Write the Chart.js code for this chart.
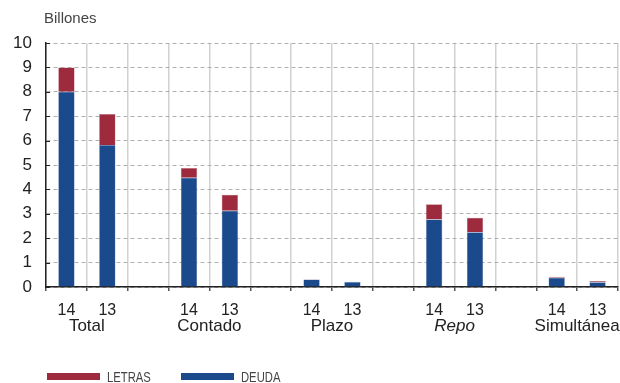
<!DOCTYPE html>
<html>
<head>
<meta charset="utf-8">
<script src="https://cdn.jsdelivr.net/npm/chart.js@4"></script>
<style>
  body { margin: 0; background: #fff; }
  #wrap { position: relative; width: 620px; height: 383px; }
  .leg { position: absolute; top: 368px; height: 16px; font-family: "Liberation Sans", sans-serif; font-size: 15px; color: #444; white-space: nowrap; }
  .leg span { position: absolute; left: 0; top: 5px; width: 53px; height: 7px; }
  .leg b { position: absolute; left: 60px; top: 0; font-weight: normal; transform: scaleX(0.75); transform-origin: left center; }
</style>
</head>
<body>
<div id="wrap">
  <canvas id="chart" width="620" height="383"></canvas>
  <div class="leg" style="left:47px"><span style="background:#9e2a3e"></span><b>LETRAS</b></div>
  <div class="leg" style="left:181px"><span style="background:#1a4a8c"></span><b>DEUDA</b></div>
</div>
<script>
// categories (empty strings are the gaps between groups)
const categories = ['14', '13', '', '14', '13', '', '14', '13', '', '14', '13', '', '14', '13'];
const groups = ['Total', 'Contado', 'Plazo', 'Repo', 'Simultánea'];
const deuda = [8.0, 5.82, null, 4.48, 3.13, null, 0.31, 0.2, null, 2.77, 2.24, null, 0.38, 0.19];
const letras = [1.0, 1.27, null, 0.4, 0.65, null, 0.01, 0.02, null, 0.62, 0.6, null, 0.04, 0.06];
const yTicks = [0, 1, 2, 3, 4, 5, 6, 7, 8, 9, 10];

const FONT = '"Liberation Sans", Arial, sans-serif';

const extras = {
  id: 'extras',
  afterDraw(chart) {
    const ctx = chart.ctx;
    const x = chart.scales.x, y = chart.scales.y;
    const area = chart.chartArea;
    ctx.save();
    // inward ticks on the y axis
    ctx.strokeStyle = '#222';
    ctx.lineWidth = 1;
    yTicks.forEach(v => {
      const py = Math.round(y.getPixelForValue(v)) + 0.5;
      ctx.beginPath();
      ctx.moveTo(area.left, py);
      ctx.lineTo(area.left + 4, py);
      ctx.stroke();
    });
    // group names under the pairs of bars
    ctx.fillStyle = '#222';
    ctx.textAlign = 'center';
    ctx.textBaseline = 'middle';
    groups.forEach((g, i) => {
      const px = (x.getPixelForValue(i * 3) + x.getPixelForValue(i * 3 + 1)) / 2;
      ctx.font = (g === 'Repo' ? 'italic ' : '') + '17px ' + FONT;
      ctx.fillText(g, px, area.bottom + 39);
    });
    // unit label
    ctx.font = '15px ' + FONT;
    ctx.fillStyle = '#444';
    ctx.textAlign = 'left';
    ctx.fillText('Billones', 44, 19);
    ctx.restore();
  }
};

new Chart(document.getElementById('chart'), {
  type: 'bar',
  data: {
    labels: categories,
    datasets: [
      { label: 'DEUDA', data: deuda, backgroundColor: '#1a4a8c', borderColor: '#6f8fbf', borderWidth: 0.5 },
      { label: 'LETRAS', data: letras, backgroundColor: '#9e2a3e', borderColor: '#c07a86', borderWidth: 0.5 }
    ]
  },
  options: {
    responsive: false,
    animation: false,
    layout: { padding: { top: 43, right: 2, left: 0, bottom: 0 } },
    plugins: { legend: { display: false }, tooltip: { enabled: false } },
    datasets: { bar: { categoryPercentage: 1, barPercentage: 0.4 } },
    scales: {
      x: {
        stacked: true,
        offset: true,
        grid: { offset: true, color: 'rgba(0,0,0,0.18)', lineWidth: 1.5, tickLength: 4, tickColor: '#555' },
        border: { color: '#222', width: 1.5 },
        ticks: { color: '#222', padding: 10, font: { family: FONT, size: 16 }, autoSkip: false, maxRotation: 0 },
        afterFit(scale) { scale.height = 96; }
      },
      y: {
        stacked: true,
        min: 0,
        max: 10,
        grid: { color: '#b0b0b0', lineWidth: 1, drawTicks: false },
        border: { color: '#222', width: 1.5, dash: [4, 3] },
        ticks: { stepSize: 1, color: '#222', padding: 14, font: { family: FONT, size: 17 } },
        afterFit(scale) { scale.width = 46; }
      }
    }
  },
  plugins: [extras]
});
</script>
</body>
</html>
